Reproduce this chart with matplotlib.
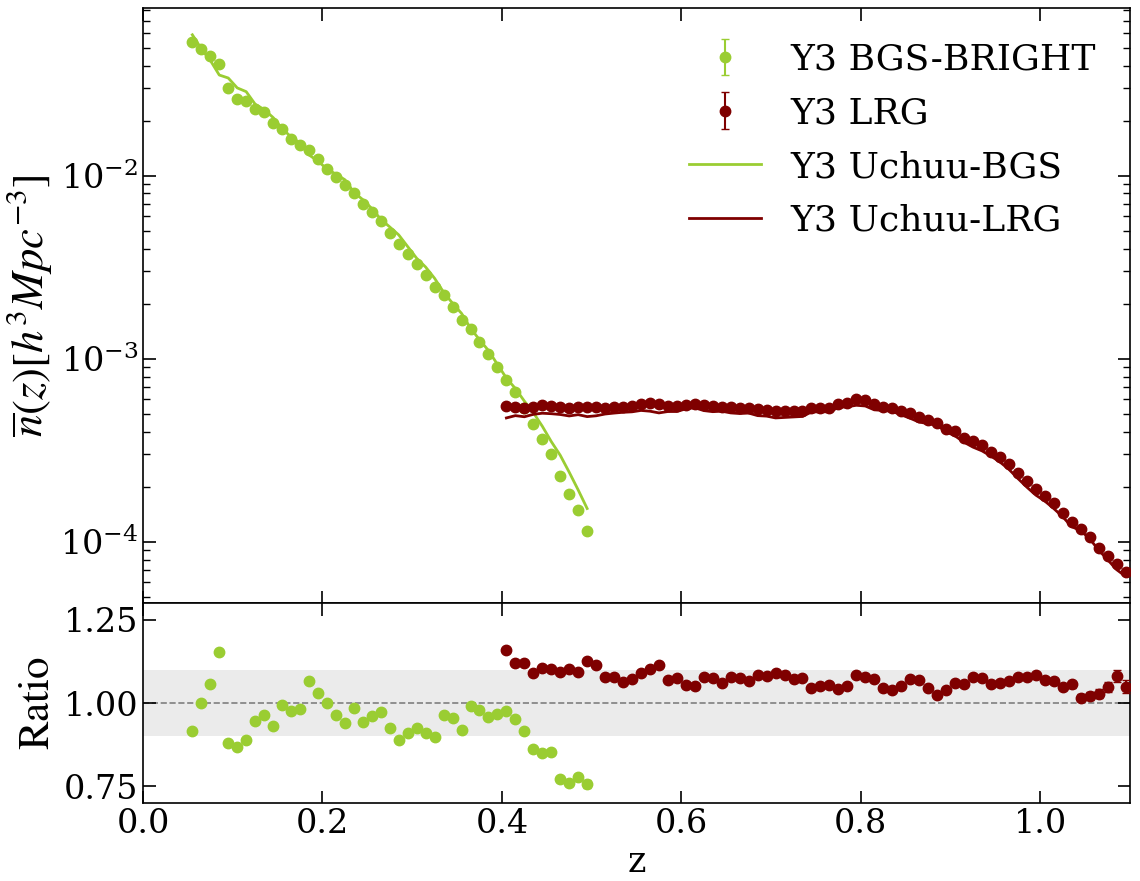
import matplotlib
matplotlib.use("Agg")
import matplotlib.pyplot as plt
import numpy as np

plt.rcParams['font.family'] = ['DejaVu Serif']
plt.rcParams['mathtext.fontset'] = 'stix'

# ---------------- data ----------------
bgs_z = [0.055, 0.065, 0.075, 0.085, 0.095, 0.105, 0.115, 0.125, 0.135, 0.145,
         0.155, 0.165, 0.175, 0.185, 0.195, 0.205, 0.215, 0.225, 0.235, 0.245,
         0.255, 0.265, 0.275, 0.285, 0.295, 0.305, 0.315, 0.325, 0.335, 0.345,
         0.355, 0.365, 0.375, 0.385, 0.395, 0.405, 0.415, 0.425, 0.435, 0.445,
         0.455, 0.465, 0.475, 0.485, 0.495]
bgs_n = [0.0539, 0.0494, 0.0451, 0.0409, 0.0301, 0.0262, 0.0256, 0.0233, 0.0222, 0.0194,
         0.0180, 0.0159, 0.0148, 0.0139, 0.0123, 0.0109, 0.00984, 0.00893, 0.00801, 0.00698,
         0.00636, 0.00563, 0.00485, 0.00422, 0.00373, 0.00328, 0.00288, 0.00247, 0.00223, 0.00192,
         0.00163, 0.00146, 0.00124, 0.00106, 0.000900, 0.000764, 0.000655, 0.000538, 0.000438, 0.000363,
         0.000301, 0.000229, 0.000182, 0.000149, 0.000115]
bgs_mock = [0.0589, 0.0494, 0.0427, 0.0355, 0.0342, 0.0302, 0.0288, 0.0246, 0.0230, 0.0208,
            0.0181, 0.0163, 0.0151, 0.0130, 0.0120, 0.0109, 0.0102, 0.00951, 0.00812, 0.00740,
            0.00662, 0.00579, 0.00525, 0.00475, 0.00410, 0.00354, 0.00317, 0.00275, 0.00231, 0.00201,
            0.00177, 0.00147, 0.00127, 0.00111, 0.000932, 0.000784, 0.000688, 0.000587, 0.000508, 0.000428,
            0.000353, 0.000297, 0.000240, 0.000192, 0.000152]
bgs_ratio = [0.915, 1.000, 1.057, 1.153, 0.880, 0.868, 0.890, 0.946, 0.965, 0.932,
             0.994, 0.976, 0.983, 1.066, 1.029, 1.000, 0.965, 0.939, 0.986, 0.943,
             0.961, 0.972, 0.924, 0.888, 0.909, 0.926, 0.909, 0.899, 0.965, 0.955,
             0.920, 0.992, 0.979, 0.959, 0.966, 0.975, 0.952, 0.916, 0.863, 0.849,
             0.853, 0.771, 0.759, 0.777, 0.757]
bgs_ratio_err = [0.002, 0.002, 0.002, 0.002, 0.002, 0.002, 0.002, 0.002, 0.002, 0.002,
                 0.002, 0.002, 0.002, 0.002, 0.002, 0.002, 0.002, 0.002, 0.002, 0.002,
                 0.002, 0.002, 0.002, 0.002, 0.002, 0.002, 0.002, 0.002, 0.003, 0.003,
                 0.003, 0.003, 0.003, 0.003, 0.004, 0.004, 0.004, 0.005, 0.005, 0.006,
                 0.006, 0.007, 0.008, 0.010, 0.013]

lrg_z = [0.405, 0.415, 0.425, 0.435, 0.445, 0.455, 0.465, 0.475, 0.485, 0.495,
         0.505, 0.515, 0.525, 0.535, 0.545, 0.555, 0.565, 0.575, 0.585, 0.595,
         0.605, 0.615, 0.625, 0.635, 0.645, 0.655, 0.665, 0.675, 0.685, 0.695,
         0.705, 0.715, 0.725, 0.735, 0.745, 0.755, 0.765, 0.775, 0.785, 0.795,
         0.805, 0.815, 0.825, 0.835, 0.845, 0.855, 0.865, 0.875, 0.885, 0.895,
         0.905, 0.915, 0.925, 0.935, 0.945, 0.955, 0.965, 0.975, 0.985, 0.995,
         1.005, 1.015, 1.025, 1.035, 1.045, 1.055, 1.065, 1.075, 1.085, 1.095]
lrg_n = [5.50e-4, 5.48e-4, 5.40e-4, 5.42e-4, 5.56e-4, 5.52e-4, 5.42e-4, 5.36e-4, 5.42e-4, 5.44e-4,
         5.44e-4, 5.38e-4, 5.44e-4, 5.42e-4, 5.50e-4, 5.68e-4, 5.70e-4, 5.64e-4, 5.50e-4, 5.53e-4,
         5.62e-4, 5.68e-4, 5.62e-4, 5.53e-4, 5.48e-4, 5.46e-4, 5.40e-4, 5.38e-4, 5.30e-4, 5.25e-4,
         5.18e-4, 5.18e-4, 5.16e-4, 5.20e-4, 5.36e-4, 5.40e-4, 5.40e-4, 5.64e-4, 5.75e-4, 6.03e-4,
         5.95e-4, 5.64e-4, 5.45e-4, 5.36e-4, 5.20e-4, 5.07e-4, 4.82e-4, 4.62e-4, 4.43e-4, 4.14e-4,
         4.02e-4, 3.70e-4, 3.55e-4, 3.37e-4, 3.10e-4, 2.89e-4, 2.65e-4, 2.39e-4, 2.15e-4, 1.95e-4,
         1.78e-4, 1.62e-4, 1.44e-4, 1.28e-4, 1.17e-4, 1.06e-4, 9.27e-5, 8.38e-5, 7.61e-5, 6.80e-5]
lrg_mock = [4.75e-4, 4.89e-4, 4.82e-4, 4.97e-4, 5.04e-4, 5.01e-4, 4.96e-4, 4.87e-4, 4.95e-4, 4.83e-4,
            4.88e-4, 4.99e-4, 5.05e-4, 5.10e-4, 5.13e-4, 5.22e-4, 5.17e-4, 5.06e-4, 5.15e-4, 5.15e-4,
            5.33e-4, 5.40e-4, 5.21e-4, 5.14e-4, 5.17e-4, 5.06e-4, 5.02e-4, 5.05e-4, 4.89e-4, 4.86e-4,
            4.75e-4, 4.78e-4, 4.81e-4, 4.84e-4, 5.12e-4, 5.13e-4, 5.13e-4, 5.42e-4, 5.47e-4, 5.57e-4,
            5.52e-4, 5.26e-4, 5.22e-4, 5.16e-4, 4.94e-4, 4.73e-4, 4.51e-4, 4.42e-4, 4.33e-4, 3.99e-4,
            3.79e-4, 3.50e-4, 3.29e-4, 3.14e-4, 2.94e-4, 2.73e-4, 2.49e-4, 2.22e-4, 1.99e-4, 1.80e-4,
            1.67e-4, 1.52e-4, 1.37e-4, 1.21e-4, 1.15e-4, 1.04e-4, 9.02e-5, 7.99e-5, 7.05e-5, 6.48e-5]
lrg_ratio = [1.158, 1.120, 1.120, 1.090, 1.104, 1.102, 1.093, 1.101, 1.094, 1.126,
             1.115, 1.078, 1.077, 1.062, 1.072, 1.089, 1.102, 1.114, 1.068, 1.074,
             1.055, 1.052, 1.078, 1.075, 1.059, 1.078, 1.075, 1.065, 1.084, 1.080,
             1.091, 1.084, 1.072, 1.074, 1.046, 1.052, 1.053, 1.041, 1.051, 1.083,
             1.078, 1.072, 1.045, 1.038, 1.052, 1.072, 1.069, 1.046, 1.024, 1.038,
             1.060, 1.056, 1.078, 1.074, 1.056, 1.059, 1.065, 1.078, 1.078, 1.083,
             1.068, 1.065, 1.049, 1.056, 1.016, 1.021, 1.028, 1.049, 1.080, 1.049]
lrg_ratio_err = [0.004, 0.004, 0.004, 0.004, 0.004, 0.004, 0.004, 0.004, 0.004, 0.004,
                 0.004, 0.004, 0.004, 0.004, 0.004, 0.004, 0.004, 0.004, 0.004, 0.004,
                 0.004, 0.004, 0.004, 0.004, 0.004, 0.004, 0.004, 0.004, 0.004, 0.004,
                 0.004, 0.004, 0.004, 0.004, 0.004, 0.004, 0.004, 0.004, 0.004, 0.004,
                 0.004, 0.004, 0.004, 0.004, 0.004, 0.004, 0.004, 0.004, 0.005, 0.005,
                 0.005, 0.005, 0.005, 0.005, 0.006, 0.006, 0.006, 0.007, 0.007, 0.008,
                 0.008, 0.009, 0.009, 0.010, 0.011, 0.012, 0.013, 0.015, 0.018, 0.020]

GREEN = '#9acd32'
RED = '#7f0000'

fig = plt.figure(figsize=(11.4, 8.81), dpi=100)
L, R = 143 / 1140, 1130 / 1140
ax = fig.add_axes([L, 1 - 603 / 881, R - L, (603 - 8) / 881])
axr = fig.add_axes([L, 1 - 803 / 881, R - L, 200 / 881], sharex=ax)

bgs_n_err = np.array(bgs_n) * np.array(bgs_ratio_err) / np.array(bgs_ratio)
lrg_n_err = np.array(lrg_n) * np.array(lrg_ratio_err) / np.array(lrg_ratio)

h1 = ax.errorbar(bgs_z, bgs_n, yerr=bgs_n_err, fmt='o', color=GREEN, ms=7.5,
                 capsize=3, elinewidth=1.5, label='Y3 BGS-BRIGHT', zorder=3)
h2 = ax.errorbar(lrg_z, lrg_n, yerr=lrg_n_err, fmt='o', color=RED, ms=7.5,
                 capsize=3, elinewidth=1.5, label='Y3 LRG', zorder=3)
h3, = ax.plot(bgs_z, bgs_mock, '-', color=GREEN, lw=2, label='Y3 Uchuu-BGS', zorder=2)
h4, = ax.plot(lrg_z, lrg_mock, '-', color=RED, lw=2, label='Y3 Uchuu-LRG', zorder=2)

ax.set_yscale('log')
ax.set_xlim(0, 1.1)
ax.set_ylim(4.63e-5, 0.0825)
ax.set_ylabel(r'$\overline{n}(z)[h^3Mpc^{-3}]$', fontsize=32)
ax.tick_params(axis='both', which='both', direction='in', top=True, right=True,
               labelsize=24, labelbottom=False)
ax.tick_params(which='major', length=9, width=1.2)
ax.tick_params(which='minor', length=5, width=1.0)
leg = ax.legend(handles=[h1, h2, h3, h4], loc='upper right', frameon=False, fontsize=26,
                handlelength=2.0, borderaxespad=0.55, labelspacing=0.55)

axr.axhspan(0.9, 1.1, color='#ebebeb', zorder=0, lw=0)
axr.axhline(1.0, color='gray', ls='--', lw=1.2, zorder=1)
axr.errorbar(bgs_z, bgs_ratio, yerr=bgs_ratio_err, fmt='o', color=GREEN, ms=7.5,
             capsize=3, elinewidth=1.5, zorder=3)
axr.errorbar(lrg_z, lrg_ratio, yerr=lrg_ratio_err, fmt='o', color=RED, ms=7.5,
             capsize=3, elinewidth=1.5, zorder=3)
axr.set_ylim(0.7, 1.3)
axr.set_yticks([0.75, 1.00, 1.25])
axr.set_yticklabels(['0.75', '1.00', '1.25'])
axr.set_xticks([0.0, 0.2, 0.4, 0.6, 0.8, 1.0])
axr.set_ylabel(r'$\mathrm{Ratio}$', fontsize=31)
axr.set_xlabel('z', fontsize=25)
axr.tick_params(axis='both', which='both', direction='in', top=True, right=True,
                labelsize=24)
axr.tick_params(which='major', length=9, width=1.2)
axr.minorticks_off()

for a in (ax, axr):
    for s in a.spines.values():
        s.set_linewidth(1.2)

fig.savefig('out.png', dpi=100)
